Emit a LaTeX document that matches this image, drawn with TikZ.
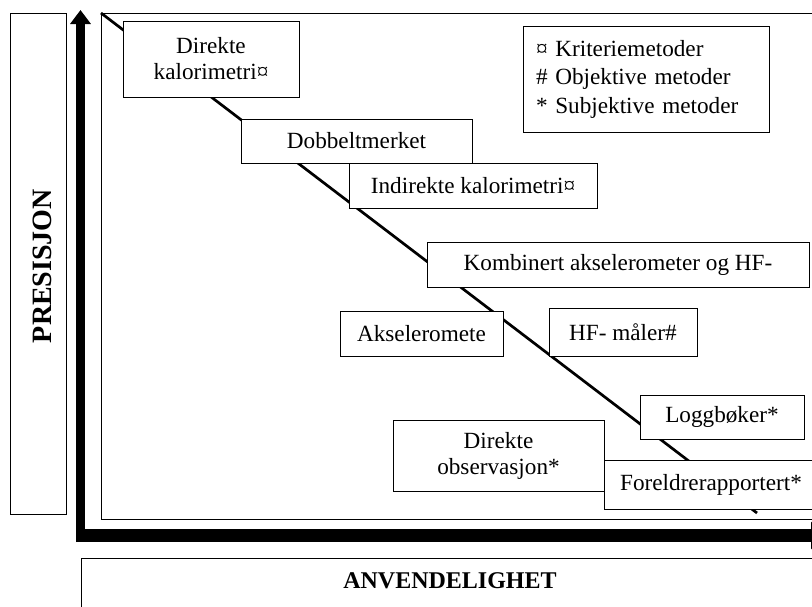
\documentclass[tikz,border=0pt]{standalone}
\usepackage{fontspec}
\setmainfont{Liberation Serif}
\usetikzlibrary{arrows.meta}

\begin{document}
\begin{tikzpicture}[x=0.5pt, y=-0.5pt,
		metode/.style={draw, fill=white, line width=0.5pt, align=center, inner sep=0pt,
			font=\fontsize{11.6}{13}\selectfont},
		pil/.style 2 args={line width=#1, -{Triangle[width=#2, length=7pt]}},
		ramme/.style={draw, line width=0.5pt}
	]
	\useasboundingbox (0,0) rectangle (812,606);
	\draw[ramme] (101,13) rectangle (830,519);
	\draw[ramme] (10,13) rectangle (66,514);
	\draw[ramme] (81,558) rectangle (830,620);
	\node[rotate=90, font=\fontsize{14}{16}\selectfont\bfseries] (presisjon) at (42.5,266) {PRESISJON};
	\node[font=\fontsize{12}{14}\selectfont\bfseries] (anvend) at (450,581) {ANVENDELIGHET};
	\coordinate (origo) at (80.5,542);
	\coordinate (ytopp) at (80.5,10);
	\coordinate (hjorne) at (76,535.5);
	\coordinate (xende) at (825,535.5);
	\draw[pil={4.65pt}{10pt}] (origo) -- (ytopp);
	\draw[pil={6.2pt}{13.5pt}] (hjorne) -- (xende);
	\coordinate (start) at (101,13);
	\coordinate (slutt) at (757,513);
	\draw[line width=1.35pt] (start) -- (slutt);
	\node[metode, minimum width=88pt, minimum height=38pt] (kalori) at (211,59) {Direkte\\kalorimetri¤};
	\node[metode, minimum width=115.5pt, minimum height=22pt] (dobbelt) at (356.5,141) {Dobbeltmerket};
	\node[metode, minimum width=124pt, minimum height=22.5pt] (indirekte) at (473,185.5) {Indirekte kalorimetri¤};
	\node[metode, minimum width=191pt, minimum height=22.5pt] (kombinert) at (618,264.5) {Kombinert akselerometer og HF-};
	\node[metode, minimum width=81.5pt, minimum height=22.5pt] (aksel) at (421.5,333.5) {Akseleromete};
	\node[metode, minimum width=74pt, minimum height=24pt] (hfmaler) at (623,332) {HF- måler\#};
	\node[metode, minimum width=82pt, minimum height=22pt] (logg) at (722,417) {Loggbøker*};
	\node[metode, minimum width=105.5pt, minimum height=35.5pt] (observ) at (498.5,455.5) {Direkte\\observasjon*};
	\node[metode, minimum width=107pt, minimum height=24.5pt] (foreldre) at (711,484.5) {Foreldrerapportert*};
	\node[metode, align=left, text width=110pt, inner xsep=6.5pt, minimum height=53pt,
		font=\fontsize{11.6}{14.25}\selectfont] (forklaring) at (646,79) {¤ Kriteriemetoder\\\# Objektive metoder\\{*} Subjektive metoder};
\end{tikzpicture}
\end{document}
